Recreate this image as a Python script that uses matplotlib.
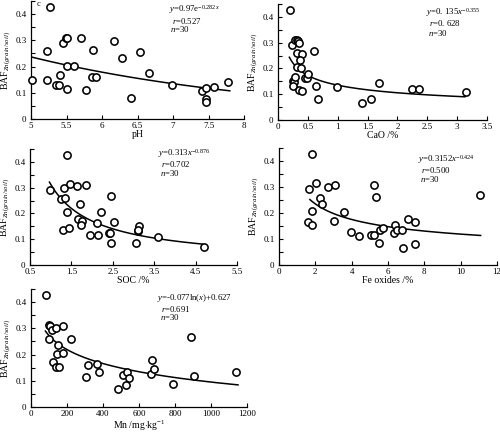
import numpy as np
import matplotlib
matplotlib.use("Agg")
import matplotlib.pyplot as plt
from matplotlib.ticker import MultipleLocator, FixedLocator

plt.rcParams['font.family'] = ['Liberation Serif', 'DejaVu Serif']
plt.rcParams['mathtext.fontset'] = 'custom'
plt.rcParams['mathtext.rm'] = 'Liberation Serif'
plt.rcParams['mathtext.it'] = 'Liberation Serif:italic'
plt.rcParams['mathtext.bf'] = 'Liberation Serif:bold'

# ---------------- data ----------------
ph = [5.27, 5.02, 5.22, 5.23, 5.35, 5.39, 5.41, 5.45, 5.49, 5.51, 5.50, 5.51, 5.61, 5.70, 5.77,
      5.86, 5.92, 5.87, 6.17, 6.28, 6.41, 6.54, 6.66, 6.99, 7.41, 7.47, 7.58, 7.47, 7.47, 7.77]
baf_ph = [0.428, 0.149, 0.259, 0.150, 0.129, 0.129, 0.167, 0.291, 0.310, 0.310, 0.113, 0.204, 0.201,
          0.308, 0.112, 0.162, 0.159, 0.265, 0.299, 0.232, 0.081, 0.255, 0.176, 0.128, 0.106, 0.119,
          0.121, 0.077, 0.063, 0.141]

cao = [0.195, 0.235, 0.29, 0.31, 0.335, 0.35, 0.32, 0.40, 0.375, 0.32, 0.38, 0.25, 0.27, 0.29, 0.245,
       0.345, 0.40, 0.445, 0.485, 0.51, 0.60, 0.64, 0.67, 0.99, 1.40, 1.55, 1.69, 2.24, 2.36, 3.15]
baf_cao = [0.426, 0.292, 0.309, 0.312, 0.306, 0.299, 0.260, 0.257, 0.231, 0.204, 0.203, 0.152, 0.149,
           0.166, 0.132, 0.117, 0.114, 0.162, 0.164, 0.177, 0.266, 0.132, 0.083, 0.129, 0.065, 0.081,
           0.143, 0.121, 0.122, 0.108]

soc = [1.39, 0.98, 1.26, 1.34, 1.31, 1.46, 1.63, 1.86, 1.39, 1.71, 1.65, 1.75, 1.73, 1.30, 1.43,
       1.96, 2.21, 2.13, 2.15, 2.41, 2.44, 2.45, 2.53, 2.45, 3.06, 3.10, 3.14, 3.12, 3.59, 4.70]
baf_soc = [0.426, 0.292, 0.256, 0.261, 0.300, 0.313, 0.308, 0.309, 0.206, 0.235, 0.178, 0.170, 0.155,
           0.135, 0.144, 0.117, 0.204, 0.164, 0.117, 0.126, 0.126, 0.268, 0.166, 0.086, 0.084, 0.132,
           0.153, 0.134, 0.110, 0.070]

fe = [1.84, 1.66, 2.04, 2.72, 3.11, 2.25, 2.34, 1.79, 1.62, 1.79, 3.00, 3.59, 3.94, 4.42, 5.06,
      5.21, 5.21, 5.32, 5.48, 5.54, 5.72, 6.39, 6.35, 6.50, 6.79, 6.85, 7.12, 7.47, 7.49, 11.06]
baf_fe = [0.426, 0.292, 0.314, 0.301, 0.309, 0.256, 0.233, 0.206, 0.164, 0.154, 0.169, 0.204, 0.126,
          0.110, 0.117, 0.115, 0.309, 0.260, 0.083, 0.133, 0.144, 0.153, 0.122, 0.133, 0.135, 0.067,
          0.178, 0.165, 0.082, 0.268]

mn = [82, 102, 108, 119, 139, 178, 102, 223, 152, 145, 176, 122, 137, 156, 306, 315, 367, 378, 484,
      510, 529, 536, 544, 670, 667, 681, 787, 887, 904, 1139]
baf_mn = [0.426, 0.313, 0.309, 0.292, 0.301, 0.309, 0.258, 0.259, 0.235, 0.204, 0.207, 0.170, 0.153,
          0.151, 0.115, 0.162, 0.165, 0.134, 0.068, 0.123, 0.083, 0.134, 0.111, 0.178, 0.124, 0.146,
          0.086, 0.267, 0.118, 0.133]

# fitted equations (as printed on the chart)
fit_ph = (0.97, -0.282)        # y = a*exp(b*x)
fit_cao = (0.135, -0.355)      # y = a*x^b
fit_soc = (0.313, -0.876)
fit_fe = (0.3152, -0.424)
fit_mn = (-0.077, 0.627)       # y = a*ln(x)+b

W, H = 500, 433
fig = plt.figure(figsize=(W / 100, H / 100), dpi=100)

def px_axes(x0, x1, y0, y1):
    return fig.add_axes([x0 / W, 1 - y0 / H, (x1 - x0) / W, (y0 - y1) / H])

def style(ax, xlim, xticks, xlabels, ylim=(0, 0.45)):
    ax.set_xlim(*xlim)
    ax.set_ylim(*ylim)
    for s in ['top', 'right']:
        ax.spines[s].set_visible(False)
    for s in ['left', 'bottom']:
        ax.spines[s].set_linewidth(0.9)
    ax.xaxis.set_major_locator(FixedLocator(xticks))
    ax.set_xticklabels(xlabels)
    ax.set_yticks([0, 0.1, 0.2, 0.3, 0.4])
    ax.set_yticklabels(['0', '0.1', '0.2', '0.3', '0.4'])
    ax.yaxis.set_minor_locator(MultipleLocator(0.05))
    ax.tick_params(axis='both', which='both', direction='in', length=3, width=0.8,
                   labelsize=6.5, pad=2, top=False, right=False)
    ax.tick_params(axis='y', which='major', pad=3.2)

def scatter(ax, x, y):
    ax.plot(x, y, 'o', ms=5.2, mfc='white', mec='black', mew=1.15, zorder=3, clip_on=False)

ylab = r'BAF$_{\mathit{Zn(grain/soil)}}$'

def ftxt(xp, yp, s, size=6.3, **kw):
    fig.text(xp / W, 1 - yp / H, s, fontsize=size, ha='left', va='center', **kw)

def labels(ax, xl, lp=0.3):
    ax.set_xlabel(xl, fontsize=7, labelpad=lp)
    ax.set_ylabel(ylab, fontsize=7, labelpad=1.5)

# ---- panel 1 : pH ----
ax1 = px_axes(31, 244, 119, 1)
style(ax1, (5, 8), [5, 5.5, 6, 6.5, 7, 7.5, 8], ['5', '5.5', '6', '6.5', '7', '7.5', '8'])
scatter(ax1, ph, baf_ph)
xx = np.linspace(5.0, 7.8, 100)
ax1.plot(xx, fit_ph[0] * np.exp(fit_ph[1] * xx), color='black', lw=1.1)
labels(ax1, 'pH')
ftxt(37, 4, 'c', size=6)
ftxt(169, 10, r'$y$=0.97e$^{-0.282x}$')
ftxt(172, 20.5, r'$r$=0.527')
ftxt(170, 29, r'$n$=30')

# ---- panel 2 : CaO ----
ax2 = px_axes(278, 487, 120, 4)
style(ax2, (0, 3.5), [0, 0.5, 1, 1.5, 2, 2.5, 3, 3.5], ['0', '0.5', '1', '1.5', '2', '2.5', '3', '3.5'])
scatter(ax2, cao, baf_cao)
xx = np.linspace(0.19, 3.13, 200)
ax2.plot(xx, fit_cao[0] * xx ** fit_cao[1], color='black', lw=1.1)
labels(ax2, 'CaO /%')
ftxt(426, 12.5, r'$y$=0. 135$x^{-0.355}$')
ftxt(429, 23.5, r'$r$=0. 628')
ftxt(428, 32.5, r'$n$=30')

# ---- panel 3 : SOC ----
ax3 = px_axes(30, 237, 265, 149)
style(ax3, (0.5, 5.5), [0.5, 1.5, 2.5, 3.5, 4.5, 5.5], ['0.5', '1.5', '2.5', '3.5', '4.5', '5.5'])
scatter(ax3, soc, baf_soc)
xx = np.linspace(0.97, 4.67, 200)
ax3.plot(xx, fit_soc[0] * xx ** fit_soc[1], color='black', lw=1.1)
labels(ax3, 'SOC /%')
ftxt(158, 153.5, r'$y$=0.313$x^{-0.876}$')
ftxt(161, 164, r'$r$=0.702')
ftxt(160, 172.5, r'$n$=30')

# ---- panel 4 : Fe oxides ----
ax4 = px_axes(279, 497, 265, 148)
style(ax4, (0, 12), [0, 2, 4, 6, 8, 10, 12], ['0', '2', '4', '6', '8', '10', '12'])
scatter(ax4, fe, baf_fe)
xx = np.linspace(1.7, 11.1, 200)
ax4.plot(xx, fit_fe[0] * xx ** fit_fe[1], color='black', lw=1.1)
labels(ax4, 'Fe oxides /%')
ftxt(418, 159.5, r'$y$=0.3152$x^{-0.424}$')
ftxt(421, 170, r'$r$=0.500')
ftxt(420, 178.5, r'$n$=30')

# ---- panel 5 : Mn ----
ax5 = px_axes(31, 247, 407, 289)
style(ax5, (0, 1200), [0, 200, 400, 600, 800, 1000, 1200],
      ['0', '200', '400', '600', '800', '1000', '1200'])
scatter(ax5, mn, baf_mn)
xx = np.linspace(80, 1150, 200)
ax5.plot(xx, fit_mn[0] * np.log(xx) + fit_mn[1], color='black', lw=1.1)
labels(ax5, r'Mn /mg$\cdot$kg$^{-1}$', lp=0.3)
ftxt(157, 298, r'$y$=-0.077ln($x$)+0.627')
ftxt(161, 309, r'$r$=0.691')
ftxt(160, 317.5, r'$n$=30')

fig.savefig('out.png', dpi=100)
